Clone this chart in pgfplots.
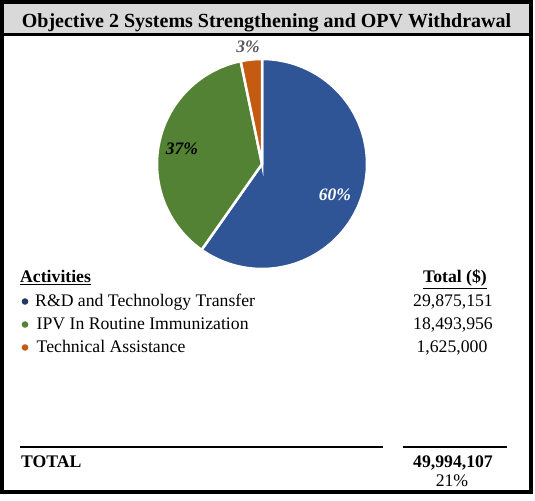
\documentclass[border=0pt]{standalone}
\usepackage{pgfplots}
\usepackage{pgfplotstable}
\pgfplotsset{compat=1.18}
\usepackage{fontspec}
\setmainfont{Liberation Serif}
\definecolor{cblue}{HTML}{2F5597}
\definecolor{cgreen}{HTML}{548235}
\definecolor{corange}{HTML}{C55A11}
\definecolor{bblue}{HTML}{203864}
\definecolor{tgray}{HTML}{D9D9D9}
\definecolor{lgray}{HTML}{595959}

% values in millions of dollars
\pgfplotstableread{
value
29.875151
18.493956
1.625000
}\piedata

\begin{document}%
\begin{tikzpicture}
\pgfplotstablegetelem{0}{value}\of\piedata \let\va\pgfplotsretval
\pgfplotstablegetelem{1}{value}\of\piedata \let\vb\pgfplotsretval
\pgfplotstablegetelem{2}{value}\of\piedata \let\vc\pgfplotsretval
\pgfmathsetmacro{\tot}{\va+\vb+\vc}
\pgfmathsetmacro{\fa}{\va/\tot}
\pgfmathsetmacro{\fb}{(\va+\vb)/\tot}
\pgfmathsetmacro{\aA}{90}
\pgfmathsetmacro{\aB}{90-360*\fa}
\pgfmathsetmacro{\aC}{90-360*\fb}
\pgfmathsetmacro{\aD}{-270}
\begin{axis}[
  width=535bp, height=501bp, scale only axis,
  xmin=0, xmax=535, ymin=0, ymax=501,
  hide axis, clip=false]
\fill[white] (axis cs:0,0) rectangle (axis cs:535,501);
% title bar
\fill[tgray] (axis cs:4,466) rectangle (axis cs:529,497);
\draw[line width=2.5bp] (axis cs:4,466.5) -- (axis cs:529,466.5);
\node[anchor=base, inner sep=0pt] at (axis cs:266.5,473)
  {\fontsize{20bp}{22bp}\selectfont\bfseries Objective 2 Systems Strengthening and OPV Withdrawal};
% pie (centre 262,337; radius 104)
\addplot[fill=cblue, draw=white, line width=2.5bp, domain=\aB:\aA, samples=120, variable=\t]
  ({262+105*cos(\t)},{337+105*sin(\t)}) -- (axis cs:262,337) -- cycle;
\addplot[fill=cgreen, draw=white, line width=2.5bp, domain=\aC:\aB, samples=100, variable=\t]
  ({262+105*cos(\t)},{337+105*sin(\t)}) -- (axis cs:262,337) -- cycle;
\addplot[fill=corange, draw=white, line width=2.5bp, domain=\aD:\aC, samples=20, variable=\t]
  ({262+105*cos(\t)},{337+105*sin(\t)}) -- (axis cs:262,337) -- cycle;
\node[text=white, font=\fontsize{17.5bp}{20bp}\selectfont\bfseries\itshape] at (axis cs:335,306) {60\%};
\node[text=black, font=\fontsize{17.5bp}{20bp}\selectfont\bfseries\itshape] at (axis cs:182,352) {37\%};
\node[text=lgray, font=\fontsize{17.5bp}{20bp}\selectfont\bfseries\itshape] at (axis cs:248,454) {3\%};
% table
\node[anchor=base west, inner sep=0pt, font=\fontsize{17.7bp}{20bp}\selectfont] at (axis cs:20,218) {\bfseries\underline{Activities}};
\node[anchor=base, inner sep=0pt, font=\fontsize{17.7bp}{20bp}\selectfont] at (axis cs:455,218) {\bfseries\underline{Total (\$)}};
\fill[bblue] (axis cs:25,199.5) circle[radius=3.3bp];
\fill[cgreen] (axis cs:25,176.5) circle[radius=3.3bp];
\fill[corange] (axis cs:25,153.5) circle[radius=3.3bp];
\node[anchor=base west, inner sep=0pt, font=\fontsize{17.7bp}{20bp}\selectfont] at (axis cs:35,194) {R\&D and Technology Transfer};
\node[anchor=base west, inner sep=0pt, font=\fontsize{17.7bp}{20bp}\selectfont] at (axis cs:36.5,171) {IPV In Routine Immunization};
\node[anchor=base west, inner sep=0pt, font=\fontsize{17.7bp}{20bp}\selectfont] at (axis cs:36.5,148) {Technical Assistance};
\node[anchor=base, inner sep=0pt, font=\fontsize{17.7bp}{20bp}\selectfont] at (axis cs:453,194) {29,875,151};
\node[anchor=base, inner sep=0pt, font=\fontsize{17.7bp}{20bp}\selectfont] at (axis cs:453,171) {18,493,956};
\node[anchor=base, inner sep=0pt, font=\fontsize{17.7bp}{20bp}\selectfont] at (axis cs:452,148) {1,625,000};
\draw[line width=2bp] (axis cs:20,54) -- (axis cs:383,54);
\draw[line width=2bp] (axis cs:403,54) -- (axis cs:507,54);
\node[anchor=base west, inner sep=0pt, font=\fontsize{17.7bp}{20bp}\selectfont] at (axis cs:21,33) {\bfseries TOTAL};
\node[anchor=base, inner sep=0pt, font=\fontsize{17.7bp}{20bp}\selectfont] at (axis cs:453,33) {\bfseries 49,994,107};
\node[anchor=base, inner sep=0pt, font=\fontsize{17.7bp}{20bp}\selectfont] at (axis cs:452,15) {21\%};
% frame
\draw[line width=4bp] (axis cs:2,9) rectangle (axis cs:531,499);
\end{axis}
\end{tikzpicture}%
\end{document}
